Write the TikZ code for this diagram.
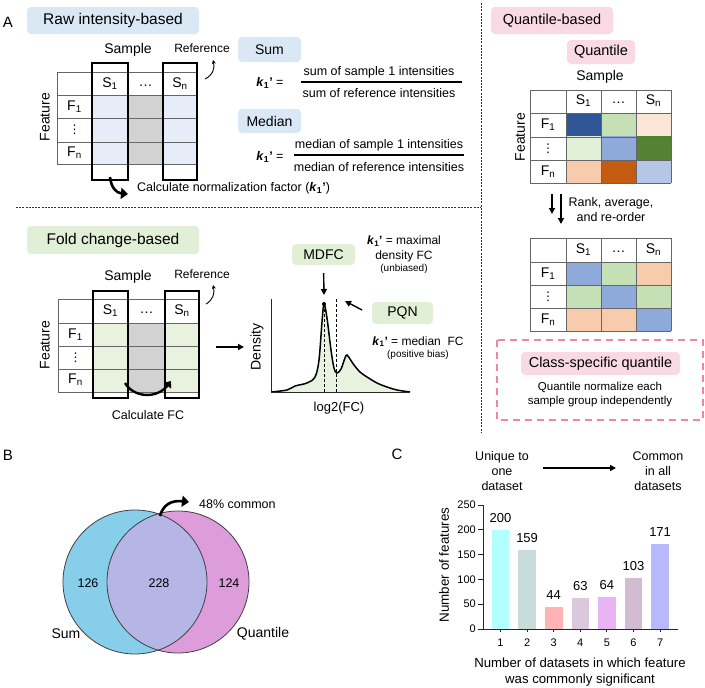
\documentclass[tikz,border=0pt]{standalone}
\usepackage{fontspec}
\setmainfont{Liberation Sans}
\newfontfamily\dotsfont{DejaVu Sans}
\usetikzlibrary{arrows.meta}
\definecolor{rawtag}{HTML}{DAE7F5}
\definecolor{rawcell}{HTML}{E6ECF8}
\definecolor{midgray}{HTML}{D2D2D2}
\definecolor{foldtag}{HTML}{E0EFD6}
\definecolor{foldcell}{HTML}{E8F2DF}
\definecolor{densfill}{HTML}{E8F3DF}
\definecolor{quanttag}{HTML}{F9D9E4}
\definecolor{pinkdash}{HTML}{EE86A9}
\definecolor{qdblue}{HTML}{2F5597}
\definecolor{qmblue}{HTML}{8EAADB}
\definecolor{qlblue}{HTML}{B4C7E7}
\definecolor{qdgreen}{HTML}{548235}
\definecolor{qlgreen}{HTML}{C5E0B4}
\definecolor{qvlgreen}{HTML}{E2F0D9}
\definecolor{qpeach}{HTML}{F8CBAD}
\definecolor{qlpeach}{HTML}{FBE5D6}
\definecolor{qdorange}{HTML}{C55A11}
\definecolor{vennleft}{HTML}{87CEEB}
\definecolor{vennright}{HTML}{DD9DDB}
\definecolor{vennmid}{HTML}{B6B6E6}
\definecolor{barA}{HTML}{B3FEFE}
\definecolor{barB}{HTML}{C9DCDC}
\definecolor{barC}{HTML}{FEB4B4}
\definecolor{barD}{HTML}{DCC8DC}
\definecolor{barE}{HTML}{E8B4F4}
\definecolor{barF}{HTML}{D2BCD2}
\definecolor{barG}{HTML}{B8B8FC}
\newcommand\kone{\textbf{\textit{k}\textsubscript{1}'}}

\begin{document}
\begin{tikzpicture}[x=1pt, y=-1pt]
    \tikzstyle{tag box} = [rounded corners=4pt, inner sep=0pt, font=\fontsize{14}{16}\selectfont]
    \tikzstyle{head tag} = [tag box, font=\fontsize{15.5}{18}\selectfont]
    \tikzstyle{label text} = [inner sep=1pt, font=\fontsize{14}{16}\selectfont]
    \tikzstyle{cell text} = [inner sep=0pt, font=\fontsize{14}{14}\selectfont]
    \tikzstyle{dots text} = [inner sep=0pt, font=\dotsfont\fontsize{12}{12}\selectfont]
    \tikzstyle{note text} = [inner sep=1pt, align=center, font=\fontsize{12.5}{15}\selectfont]
    \tikzstyle{small text} = [inner sep=1pt, align=center, font=\fontsize{11}{13}\selectfont]
    \tikzstyle{grid line} = [draw=black!60, line width=0.8pt]
    \tikzstyle{col box} = [draw=black, line width=2pt]
    \tikzstyle{divider} = [draw=black!80, line width=0.7pt, dash pattern=on 2pt off 1.2pt]
    \tikzstyle{guide line} = [draw=black, line width=1pt, dash pattern=on 3pt off 2pt]
    \tikzstyle{axis line} = [draw=black!85, line width=1pt]
    \tikzstyle{fat arrow} = [line width=2.6pt, -{Triangle[length=7pt,width=11pt]}]
    \tikzstyle{mid arrow} = [line width=2.4pt, -{Triangle[length=6pt,width=9pt]}]
    \tikzstyle{plain arrow} = [line width=1.4pt, -{Triangle[length=6pt,width=6pt]}]
    \tikzstyle{thin arrow} = [line width=0.9pt, -{Stealth[length=4pt,width=4pt]}]
    \useasboundingbox (0,0) rectangle (705,688);
% panel dividers
\coordinate (vtop) at (481,3);
\coordinate (vbot) at (481,432);
\coordinate (hleft) at (16,207);
\coordinate (hright) at (481,207);
\draw[divider] (vtop) -- (vbot);
\draw[divider] (hleft) -- (hright);
\node[label text, font=\fontsize{15}{17}\selectfont] (labA) at (8,22) {A};
% raw intensity-based
\node[head tag, fill=rawtag, minimum width=172, minimum height=27] (rawtag) at (113,20.5) {Raw intensity-based};
\fill[rawcell] (92,95) rectangle (128,164);
\fill[rawcell] (163,95) rectangle (197,164);
\fill[midgray] (128,95) rectangle (163,164);
\foreach \y in {72,95,118,142,164} \draw[grid line] (57,\y) -- (197,\y);
\foreach \x in {57,92,128,163,197} \draw[grid line] (\x,72) -- (\x,164);
\draw[col box] (92,63) rectangle (128,180);
\draw[col box] (163,63) rectangle (197,180);
\node[cell text] (rs1) at (110,84) {S\textsubscript{1}};
\node[cell text] (rdots) at (145.5,86) {\ldots};
\node[cell text] (rsn) at (180,84) {S\textsubscript{n}};
\node[cell text] (rf1) at (74.5,107) {F\textsubscript{1}};
\node[dots text] (rfv) at (74.5,130) {⋮};
\node[cell text] (rfn) at (74.5,153) {F\textsubscript{n}};
\node[label text, rotate=90] (rfeat) at (45,117) {Feature};
\node[label text] (rsample) at (128,50) {Sample};
\node[note text, font=\fontsize{12}{14}\selectfont] (rref) at (202,48) {Reference};
\coordinate (rrefS) at (205,79);
\coordinate (rrefE) at (213,60);
\draw[thin arrow] (rrefS) .. controls (213,75) and (215,68) .. (rrefE);
\coordinate (calcS) at (110,177);
\coordinate (calcE) at (128,194);
\draw[fat arrow] (calcS) .. controls (111,187) and (116,193) .. (calcE);
\node[note text, anchor=west] (calc) at (136,188) {Calculate normalization factor (\kone)};
% sum and median
\node[tag box, fill=rawtag, minimum width=63, minimum height=25] (sumtag) at (269.5,49.5) {Sum};
\node[note text] (sumk) at (270,83) {\kone\ =};
\node[note text] (sumnum) at (379,72) {sum of sample 1 intensities};
\node[note text] (sumden) at (379,93) {sum of reference intensities};
\draw[line width=1.3pt] (301,82) -- (462,82);
\node[tag box, fill=rawtag, minimum width=63, minimum height=24] (medtag) at (269.5,121) {Median};
\node[note text] (medk) at (270,157) {\kone\ =};
\node[note text] (mednum) at (379,145) {median of sample 1 intensities};
\node[note text] (medden) at (379,167) {median of reference intensities};
\draw[line width=1.3pt] (294,155) -- (464,155);
% fold change-based
\node[head tag, fill=foldtag, minimum width=172, minimum height=28] (foldtag) at (113,240) {Fold change-based};
\fill[foldcell] (93,323) rectangle (128,392);
\fill[foldcell] (165,323) rectangle (199,392);
\fill[midgray] (128,323) rectangle (165,392);
\foreach \y in {299,323,346,369,392} \draw[grid line] (58,\y) -- (199,\y);
\foreach \x in {58,93,128,165,199} \draw[grid line] (\x,299) -- (\x,392);
\draw[col box] (93,291) rectangle (128,398);
\draw[col box] (165,291) rectangle (199,398);
\node[cell text] (fs1) at (110.5,311) {S\textsubscript{1}};
\node[cell text] (fdots) at (146.5,313) {\ldots};
\node[cell text] (fsn) at (182,311) {S\textsubscript{n}};
\node[cell text] (ff1) at (75.5,335) {F\textsubscript{1}};
\node[dots text] (ffv) at (75.5,358) {⋮};
\node[cell text] (ffn) at (75.5,380) {F\textsubscript{n}};
\node[label text, rotate=90] (ffeat) at (45,345) {Feature};
\node[label text] (fsample) at (128,277) {Sample};
\node[note text, font=\fontsize{12}{14}\selectfont] (fref) at (202,274) {Reference};
\coordinate (frefS) at (206,304);
\coordinate (frefE) at (213,285);
\draw[thin arrow] (frefS) .. controls (213,300) and (215,293) .. (frefE);
\coordinate (fcS) at (125,383);
\coordinate (fcE) at (171,381);
\draw[mid arrow] (fcS) .. controls (134,398) and (157,399) .. (fcE);
\node[note text] (calcfc) at (148,415) {Calculate FC};
\coordinate (toDensS) at (216,347);
\coordinate (toDensE) at (244,347);
\draw[plain arrow] (toDensS) -- (toDensE);
% density of fold changes
\fill[densfill] plot[smooth, tension=0.55] coordinates {(271,392) (287,390) (295,386) (307,383) (315,377) (319,360) (322,322) (324,304) (327,318) (331,350) (334,368) (337,373) (341,369) (345,358) (347,355) (350,359) (354,365) (360,372) (367,377) (377,383) (387,387) (397,390) (410,392)} -- cycle;
\draw[line width=1.5pt] plot[smooth, tension=0.55] coordinates {(271,392) (287,390) (295,386) (307,383) (315,377) (319,360) (322,322) (324,304) (327,318) (331,350) (334,368) (337,373) (341,369) (345,358) (347,355) (350,359) (354,365) (360,372) (367,377) (377,383) (387,387) (397,390) (410,392)};
\fill (324,304) circle (2pt);
\draw[guide line] (324,304) -- (324,392);
\draw[guide line] (336,299) -- (336,392);
\draw[axis line] (271,299) -- (271,392) -- (410,392);
\node[label text, rotate=90] (densy) at (257,347) {Density};
\node[note text, font=\fontsize{13}{15}\selectfont] (densx) at (339,408) {log2(FC)};
\node[tag box, fill=foldtag, minimum width=63, minimum height=21] (mdfc) at (323.5,254.5) {MDFC};
\coordinate (peaktop) at (324,295);
\draw[plain arrow, shorten <=8pt] (mdfc.south) -- (peaktop);
\node[note text, font=\fontsize{12}{14.5}\selectfont] (mdfck) at (404,255) {\kone\ = maximal\\density FC\\[-2pt]{\fontsize{10}{12}\selectfont(unbiased)}};
\node[tag box, fill=foldtag, minimum width=61, minimum height=22] (pqn) at (402.5,313) {PQN};
\coordinate (pqntail) at (362,310);
\coordinate (pqntip) at (345,301);
\draw[plain arrow] (pqntail) -- (pqntip);
\node[note text, font=\fontsize{12}{14.5}\selectfont] (pqnk) at (418,348) {\kone\ = median\ \ FC\\[-2pt]{\fontsize{10}{12}\selectfont(positive bias)}};
% quantile-based
\node[tag box, fill=quanttag, minimum width=122, minimum height=27, font=\fontsize{14.5}{17}\selectfont] (quanttag) at (552,20.5) {Quantile-based};
\node[tag box, fill=quanttag, minimum width=68, minimum height=24, font=\fontsize{14.5}{17}\selectfont] (quantile) at (601,52) {Quantile};
\node[label text] (qsample) at (600,77) {Sample};
\foreach \i/\j/\col in {0/0/qdblue, 1/0/qlgreen, 2/0/qlpeach, 0/1/qvlgreen, 1/1/qmblue, 2/1/qdgreen, 0/2/qpeach, 1/2/qdorange, 2/2/qlblue}
    \fill[\col] ({566+35*\i},{113+23.33*\j}) rectangle +(35,23.33);
\foreach \y in {90,113,137,160,183} \draw[grid line] (530,\y) -- (671,\y);
\foreach \x in {530,566,601,636,671} \draw[grid line] (\x,90) -- (\x,183);
\node[cell text] (qs1) at (583.5,101) {S\textsubscript{1}};
\node[cell text] (qdots) at (618.5,103) {\ldots};
\node[cell text] (qsn) at (653.5,101) {S\textsubscript{n}};
\node[cell text] (qf1) at (548,125) {F\textsubscript{1}};
\node[dots text] (qfv) at (548,149) {⋮};
\node[cell text] (qfn) at (548,172) {F\textsubscript{n}};
\node[label text, rotate=90] (qfeat) at (520,137) {Feature};
\coordinate (rankS1) at (552,194);
\coordinate (rankE1) at (552,214);
\coordinate (rankS2) at (561,194);
\coordinate (rankE2) at (561,224);
\draw[plain arrow] (rankS1) -- (rankE1);
\draw[plain arrow] (rankS2) -- (rankE2);
\node[note text] (rank) at (611,209.5) {Rank, average,\\and re-order};
\foreach \i/\j/\col in {0/0/qmblue, 1/0/qlgreen, 2/0/qpeach, 0/1/qlgreen, 1/1/qmblue, 2/1/qlgreen, 0/2/qpeach, 1/2/qpeach, 2/2/qmblue}
    \fill[\col] ({566+35*\i},{262+23*\j}) rectangle +(35,23);
\foreach \y in {238,262,285,308,331} \draw[grid line] (530,\y) -- (671,\y);
\foreach \x in {530,566,601,636,671} \draw[grid line] (\x,238) -- (\x,331);
\node[cell text] (os1) at (583.5,250) {S\textsubscript{1}};
\node[cell text] (odots) at (618.5,252) {\ldots};
\node[cell text] (osn) at (653.5,250) {S\textsubscript{n}};
\node[cell text] (of1) at (548,274) {F\textsubscript{1}};
\node[dots text] (ofv) at (548,297) {⋮};
\node[cell text] (ofn) at (548,320) {F\textsubscript{n}};
\draw[pinkdash, line width=1.6pt, dash pattern=on 7pt off 5pt] (497,340) rectangle (703,420);
\node[tag box, fill=quanttag, minimum width=159, minimum height=23, font=\fontsize{14.4}{17}\selectfont] (classtag) at (600.5,363.5) {Class-specific quantile};
\node[small text, font=\fontsize{11.5}{14}\selectfont] (classtxt) at (600,395) {Quantile normalize each\\sample group independently};
% B: venn diagram
\node[label text, font=\fontsize{15}{17}\selectfont] (labB) at (8,455) {B};
\fill[vennleft] (135,582) circle (72pt);
\fill[vennright] (178,582) circle (71pt);
\begin{scope}
    \clip (135,582) circle (72pt);
    \fill[vennmid] (178,582) circle (71pt);
\end{scope}
\draw[black!75, line width=0.8pt] (135,582) circle (72pt);
\draw[black!75, line width=0.8pt] (178,582) circle (71pt);
\node[note text] (vsum) at (88,583) {126};
\node[note text] (vboth) at (159,583) {228};
\node[note text] (vquant) at (229,583) {124};
\node[label text] (vsumlab) at (66,634) {Sum};
\node[label text] (vquantlab) at (263,634) {Quantile};
\coordinate (vcross) at (160,516);
\coordinate (vtip) at (189,502);
\draw[fat arrow] (vcross) .. controls (163,505) and (171,500) .. (vtip);
\node[note text, anchor=west] (vcommon) at (198,504) {48\% common};
% C: bar chart
\node[label text, font=\fontsize{15}{17}\selectfont] (labC) at (397,454) {C};
\node[note text] (uniq) at (502,471) {Unique to\\one\\dataset};
\node[note text] (comm) at (658,471) {Common\\in all\\datasets};
\coordinate (trendL) at (543,468);
\coordinate (trendR) at (616,468);
\draw[plain arrow] (trendL) -- (trendR);
\draw[axis line] (483,505) -- (483,629) -- (678,629);
\foreach \v in {0,50,...,250} {
    \draw[axis line] (478,{629-0.496*\v}) -- (483,{629-0.496*\v});
    \node[small text, anchor=east] (ytick\v) at (477,{629-0.496*\v}) {\v};
}
\foreach \i/\v/\col in {1/200/barA, 2/159/barB, 3/44/barC, 4/63/barD, 5/64/barE, 6/103/barF, 7/171/barG} {
    \fill[\col] ({500.5+26.6*(\i-1)-8.8},629) rectangle ({500.5+26.6*(\i-1)+8.8},{629-0.496*\v});
    \draw[axis line] ({500.5+26.6*(\i-1)},629) -- ({500.5+26.6*(\i-1)},632);
    \node[small text] (xtick\i) at ({500.5+26.6*(\i-1)},643) {\i};
    \node[note text, font=\fontsize{13}{15}\selectfont] (val\i) at ({500.5+26.6*(\i-1)},{617-0.496*\v}) {\v};
}
\node[label text, rotate=90, font=\fontsize{13.4}{16}\selectfont] (ylab) at (444,565) {Number of features};
\node[note text, font=\fontsize{13.2}{16}\selectfont] (xlab) at (580,672) {Number of datasets in which feature\\was commonly significant};
\end{tikzpicture}
\end{document}
